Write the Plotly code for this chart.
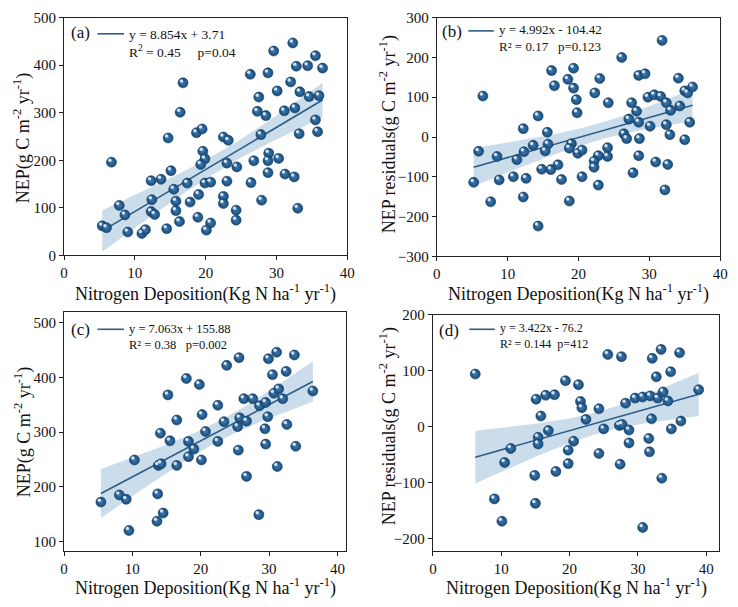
import numpy as np
import plotly.graph_objects as go

W, H = 738, 607
FONT = "Liberation Serif, Times New Roman, Times, serif"

# ---------------- data ----------------
a_x = [32.3, 29.6, 35.5, 32.8, 34.4, 36.5, 26.3, 28.8, 16.8, 32.0,
       27.5, 30.1, 33.3, 34.6, 36.0, 16.4, 27.3, 28.5, 31.1, 32.6,
       35.5, 18.7, 19.5, 14.7, 22.5, 23.2, 27.8, 33.2, 35.8, 6.7,
       19.6, 19.9, 19.3, 26.8, 28.9, 28.8, 30.3, 23.0, 24.4, 15.1,
       13.7, 12.3, 19.9, 20.7, 23.0, 17.4, 15.5, 28.8, 31.2, 32.5,
       26.4, 7.8, 12.4, 15.8, 17.8, 19.0, 22.5, 22.5, 27.9, 33.0,
       8.6, 12.3, 12.8, 15.8, 24.3, 5.4, 6.0, 9.0, 11.0, 11.5,
       14.5, 16.3, 18.9, 20.7, 20.1, 24.3]
a_y = [447, 430, 420, 398, 399, 394, 381, 384, 363, 365,
       333, 346, 344, 334, 336, 301, 303, 294, 304, 310,
       285, 258, 266, 247, 249, 242, 254, 256, 260, 196,
       219, 203, 191, 199, 215, 199, 204, 194, 186, 178,
       160, 157, 152, 154, 156, 152, 139, 174, 171, 165,
       153, 105, 117, 114, 112, 128, 124, 109, 116, 99,
       85, 92, 86, 94, 95, 62, 58, 49, 46, 54,
       56, 71, 80, 68, 53, 74]

b_x = [31.8, 26.1, 16.2, 19.3, 28.5, 29.4, 18.5, 23.0, 34.1, 6.5,
       16.6, 19.3, 22.3, 19.7, 24.2, 27.5, 29.8, 30.7, 31.6, 32.4,
       35.0, 35.4, 36.1, 34.3, 33.0, 14.3, 19.8, 28.2, 27.1, 28.5,
       30.1, 32.4, 35.7, 12.2, 15.6, 26.4, 26.8, 28.6, 32.9, 35.0,
       13.6, 15.7, 19.0, 5.9, 8.5, 11.3, 12.3, 15.3, 18.7, 19.9,
       20.5, 24.1, 24.1, 22.8, 22.2, 22.2, 5.2, 8.8, 10.8, 12.6,
       14.8, 16.1, 17.1, 17.6, 20.5, 22.8, 27.7, 28.5, 30.9, 32.6,
       7.6, 12.2, 18.7, 32.2, 14.3]
b_y = [243, 200, 167, 173, 155, 159, 145, 147, 148, 103,
       129, 123, 111, 94, 86, 86, 100, 106, 102, 86,
       116, 111, 126, 78, 67, 53, 61, 65, 45, 37,
       27, 31, 37, 21, 12, 8, -4, -4, 6, -7,
       -21, -18, -17, -36, -49, -57, -37, -35, -28, -41,
       -33, -27, -49, -47, -61, -76, -114, -108, -100, -104,
       -81, -82, -70, -107, -100, -121, -90, -47, -63, -69,
       -163, -151, -161, -133, -224]

c_x = [31.1, 29.9, 33.7, 25.6, 23.8, 30.5, 32.5, 17.9, 19.8, 15.2,
       26.3, 27.6, 30.7, 31.4, 32.0, 36.4, 22.5, 28.6, 29.5, 20.2,
       16.5, 23.4, 25.7, 26.7, 29.8, 32.6, 25.4, 29.4, 20.7, 14.1,
       15.5, 18.2, 22.5, 19.0, 25.5, 29.5, 33.9, 10.3, 18.2, 20.1,
       13.8, 14.2, 16.5, 31.2, 26.7, 8.1, 9.1, 13.7, 5.4, 14.5,
       13.6, 28.5, 9.5]
c_y = [446, 434, 441, 436, 422, 405, 411, 398, 387, 368,
       361, 361, 371, 379, 361, 375, 349, 348, 354, 332,
       322, 319, 326, 320, 328, 314, 310, 306, 301, 298,
       284, 283, 283, 269, 267, 278, 274, 249, 255, 249,
       239, 242, 239, 237, 219, 185, 177, 187, 172, 152,
       137, 149, 120]

d_x = [6.2, 25.6, 27.6, 32.1, 33.4, 36.1, 32.7, 34.8, 19.4, 21.3,
       15.1, 16.5, 17.8, 21.6, 21.8, 24.3, 28.2, 29.6, 30.7, 31.8,
       32.9, 33.7, 34.4, 38.9, 15.8, 22.4, 32.0, 36.3, 16.9, 25.0,
       27.3, 27.7, 28.7, 34.9, 15.4, 15.4, 11.4, 20.6, 19.8, 28.7,
       31.6, 31.7, 24.3, 10.5, 19.8, 27.4, 14.9, 18.0, 33.5, 9.0,
       15.0, 10.1, 30.7]
d_y = [94, 129, 125, 122, 138, 132, 89, 98, 82, 75,
       49, 56, 57, 45, 34, 32, 42, 51, 53, 55,
       51, 62, 46, 66, 19, 13, 14, 10, -7, -4,
       2, 4, -6, -4, -19, -31, -39, -26, -42, -29,
       -21, -45, -48, -64, -66, -67, -87, -80, -92, -129,
       -137, -169, -180]

NB = "\u00a0"
panel_labels = ["(a)", "(b)", "(c)", "(d)"]
eq_texts = ["y = 8.854x + 3.71", "y = 4.992x - 104.42",
            "y = 7.063x + 155.88", "y = 3.422x - 76.2"]
stat_texts = ["R<sup>2</sup> = 0.45" + NB * 5 + "p=0.04",
              "R² = 0.17" + NB * 3 + "p=0.123",
              "R² = 0.38" + NB * 3 + "p=0.002",
              "R² = 0.144" + NB * 2 + "p=412"]
y_titles = ["NEP(g C m<sup>-2</sup> yr<sup>-1</sup>)",
            "NEP residuals(g C m<sup>-2</sup> yr<sup>-1</sup>)",
            "NEP(g C m<sup>-2</sup> yr<sup>-1</sup>)",
            "NEP residuals(g C m<sup>-2</sup> yr<sup>-1</sup>)"]
x_title = "Nitrogen Deposition(Kg N ha<sup>-1</sup> yr<sup>-1</sup>)"
x_ranges = [[0, 40], [0, 40], [0, 41.3], [0, 41.9]]
y_ranges = [[0, 500], [-300, 300], [82, 520], [-222.6, 200]]

# ---------------- layout geometry (pixels) ----------------
boxes = [(61, 10, 349, 254), (440, 10, 728, 255),
         (61, 312, 348, 558), (436, 315, 727, 558)]
legend_geo = [  # label_x, label_y, line_x0, line_x1, line_y, text_x, text_center_y, font
    (77.5, 25.5, 95, 122, 26.5, 125, 36, 13.5),
    (455, 24.5, 472, 498, 23.5, 501, 31, 13),
    (77.5, 330, 95, 122, 330, 125, 338, 12.5),
    (452, 331, 473, 499, 330, 502, 337, 12),
]
ytitle_pos = [(19, 133), (390, 130), (19, 435), (390, 430)]
xtitle_y = [293, 293, 595, 595]

LINE = "#2c5d88"
BAND = "rgba(139,179,210,0.45)"


def px(x):
    return x / W


def py(y):
    return 1 - y / H


datasets = [(a_x, a_y), (b_x, b_y), (c_x, c_y), (d_x, d_y)]

fig = go.Figure()
annotations = []
shapes = []

for i, (xs, ys) in enumerate(datasets):
    sfx = "" if i == 0 else str(i + 1)
    xa, ya = "x" + sfx, "y" + sfx
    x = np.array(xs, float)
    y = np.array(ys, float)
    n = len(x)
    slope, icpt = np.polyfit(x, y, 1)
    xm = x.mean()
    sxx = ((x - xm) ** 2).sum()
    s = np.sqrt(((y - (slope * x + icpt)) ** 2).sum() / (n - 2))
    xg = np.linspace(x.min(), x.max(), 120)
    yg = slope * xg + icpt
    se = 1.99 * s * np.sqrt(1 / n + (xg - xm) ** 2 / sxx)

    fig.add_trace(go.Scatter(x=np.concatenate([xg, xg[::-1]]),
                             y=np.concatenate([yg + se, (yg - se)[::-1]]),
                             fill="toself", fillcolor=BAND, line=dict(width=0),
                             mode="lines", hoverinfo="skip", showlegend=False,
                             xaxis=xa, yaxis=ya))
    fig.add_trace(go.Scatter(x=xg, y=yg, mode="lines",
                             line=dict(color=LINE, width=1.6),
                             showlegend=False, xaxis=xa, yaxis=ya))
    fig.add_trace(go.Scatter(x=x, y=y, mode="markers",
                             marker=dict(size=10, color="#174a78",
                                         gradient=dict(type="radial", color="#3f7bb0"),
                                         line=dict(color="#143f66", width=0.6)),
                             showlegend=False, xaxis=xa, yaxis=ya))
    # specular highlight (offset a couple of pixels up-left)
    L, T, R, B = boxes[i]
    kx = (R - L) / (x_ranges[i][1] - x_ranges[i][0])
    ky = (B - T) / (y_ranges[i][1] - y_ranges[i][0])
    fig.add_trace(go.Scatter(x=x - 1.6 / kx, y=y + 2.0 / ky, mode="markers",
                             marker=dict(size=3.5, color="rgba(225,238,250,0.9)",
                                         line=dict(width=0)),
                             hoverinfo="skip", showlegend=False,
                             xaxis=xa, yaxis=ya))

    axcommon = dict(showgrid=False, zeroline=False, showline=True, mirror=True,
                    linecolor="#222", linewidth=1.2, ticks="outside", ticklen=4,
                    tickwidth=1, tickcolor="#222",
                    tickfont=dict(family=FONT, size=15, color="#111"))
    fig.layout["xaxis" + sfx] = dict(domain=[px(L), px(R)], range=x_ranges[i],
                                     anchor=ya, tick0=0, dtick=10, **axcommon)
    fig.layout["yaxis" + sfx] = dict(domain=[py(B), py(T)], range=y_ranges[i],
                                     anchor=xa, tick0=0, dtick=100, **axcommon)

    lx, ly, l0, l1, lyy, tx, tcy, fs = legend_geo[i]
    annotations.append(dict(x=px(lx), y=py(ly), xref="paper", yref="paper",
                            text=panel_labels[i], showarrow=False,
                            font=dict(family=FONT, size=17, color="#111"),
                            xanchor="center", yanchor="middle"))
    shapes.append(dict(type="line", xref="paper", yref="paper",
                       x0=px(l0), x1=px(l1), y0=py(lyy), y1=py(lyy),
                       line=dict(color=LINE, width=1.6)))
    annotations.append(dict(x=px(tx), y=py(tcy), xref="paper", yref="paper",
                            text=eq_texts[i] + "<br>" + stat_texts[i],
                            showarrow=False, align="left",
                            font=dict(family=FONT, size=fs, color="#111"),
                            xanchor="left", yanchor="middle"))
    # axis titles
    yx, yy = ytitle_pos[i]
    annotations.append(dict(x=px(yx), y=py(yy), xref="paper", yref="paper",
                            text=y_titles[i], showarrow=False, textangle=-90,
                            font=dict(family=FONT, size=18, color="#111"),
                            xanchor="center", yanchor="middle"))
    annotations.append(dict(x=px((L + R) / 2), y=py(xtitle_y[i]), xref="paper",
                            yref="paper", text=x_title, showarrow=False,
                            font=dict(family=FONT, size=18, color="#111"),
                            xanchor="center", yanchor="middle"))

fig.update_layout(width=W, height=H, margin=dict(l=0, r=0, t=0, b=0),
                  paper_bgcolor="white", plot_bgcolor="white",
                  showlegend=False, annotations=annotations, shapes=shapes,
                  font=dict(family=FONT))

fig.write_html("out.html")
